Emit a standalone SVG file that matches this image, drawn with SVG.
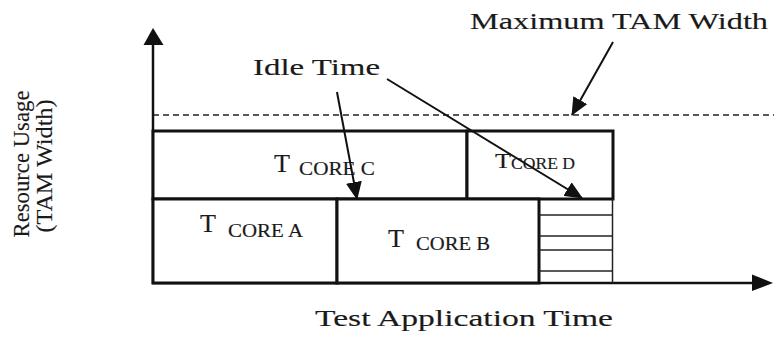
<svg xmlns="http://www.w3.org/2000/svg" width="774" height="342" viewBox="0 0 774 342">
<style>
  text { font-family: Liberation Serif, Times New Roman, serif; fill: #1a1a1a; stroke: #1a1a1a; stroke-width: 0.15; }
  .box { fill: #fff; stroke: #111; stroke-width: 3; }
  .hatch { stroke: #222; stroke-width: 1.5; fill: none; }
  .axis { stroke: #111; stroke-width: 2.5; fill: none; }
  .lead { stroke: #111; stroke-width: 2; fill: none; marker-end: url(#ah); }
  .dash { stroke: #222; stroke-width: 1.5; stroke-dasharray: 6 4; fill: none; }
  .big { font-size: 23px; }
  .t { font-size: 26px; }
  .sub { font-size: 18px; }
</style>
<defs>
  <marker id="ah" markerUnits="userSpaceOnUse" viewBox="0 0 18 16" refX="17" refY="8" markerWidth="18" markerHeight="16" orient="auto">
    <path d="M0,0 L18,8 L0,16 z" fill="#111"/>
  </marker>
</defs>
<rect width="774" height="342" fill="#fff"/>

<g id="axes">
  <line class="dash" x1="153" y1="115" x2="774" y2="115"/>
  <line class="axis" x1="153" y1="284" x2="153" y2="42"/>
  <path d="M153,28 L143.5,45 L163.5,45 z" fill="#111"/>
  <line class="axis" x1="152" y1="283" x2="754" y2="283"/>
  <path d="M773,283 L752,274.5 L752,291 z" fill="#111"/>
</g>

<g id="core-c">
  <rect class="box" x="153" y="131" width="314" height="68"/>
  <text x="274" y="172" class="t" textLength="16" lengthAdjust="spacingAndGlyphs">T</text>
  <text x="299" y="175" class="sub" textLength="76" lengthAdjust="spacingAndGlyphs">CORE C</text>
</g>
<g id="core-d">
  <rect class="box" x="467" y="131" width="146" height="68"/>
  <text x="495" y="168" font-size="22" textLength="16" lengthAdjust="spacingAndGlyphs">T</text>
  <text x="511" y="169" font-size="16" textLength="64" lengthAdjust="spacingAndGlyphs">CORE D</text>
</g>
<g id="core-a">
  <rect class="box" x="153" y="199" width="184" height="84"/>
  <text x="200" y="232" class="t" textLength="16" lengthAdjust="spacingAndGlyphs">T</text>
  <text x="228" y="237" class="sub" textLength="75" lengthAdjust="spacingAndGlyphs">CORE A</text>
</g>
<g id="core-b">
  <rect class="box" x="337" y="199" width="202" height="84"/>
  <text x="388" y="247" class="t" textLength="16" lengthAdjust="spacingAndGlyphs">T</text>
  <text x="416" y="250" class="sub" textLength="74" lengthAdjust="spacingAndGlyphs">CORE B</text>
</g>
<g id="idle-area">
  <line class="hatch" x1="612.5" y1="199" x2="612.5" y2="283"/>
  <line class="hatch" x1="539" y1="215" x2="613" y2="215"/>
  <line class="hatch" x1="539" y1="236" x2="613" y2="236"/>
  <line class="hatch" x1="539" y1="250" x2="613" y2="250"/>
  <line class="hatch" x1="539" y1="271" x2="613" y2="271"/>
</g>

<g id="labels">
  <text x="470" y="29" class="big" textLength="298" lengthAdjust="spacingAndGlyphs">Maximum TAM Width</text>
  <text x="253" y="75" font-size="24" textLength="127" lengthAdjust="spacingAndGlyphs">Idle Time</text>
  <text x="315" y="326" class="big" textLength="298" lengthAdjust="spacingAndGlyphs">Test Application Time</text>
  <text transform="translate(29,164) rotate(-90)" text-anchor="middle" font-size="23" textLength="147" lengthAdjust="spacingAndGlyphs">Resource Usage</text>
  <text transform="translate(52,166) rotate(-90)" text-anchor="middle" font-size="23" textLength="133" lengthAdjust="spacingAndGlyphs">(TAM Width)</text>
</g>

<g id="connectors">
  <line class="lead" x1="337" y1="92" x2="357" y2="199"/>
  <line class="lead" x1="387" y1="79" x2="582" y2="198"/>
  <line class="lead" x1="613" y1="42" x2="572" y2="115"/>
</g>
</svg>
